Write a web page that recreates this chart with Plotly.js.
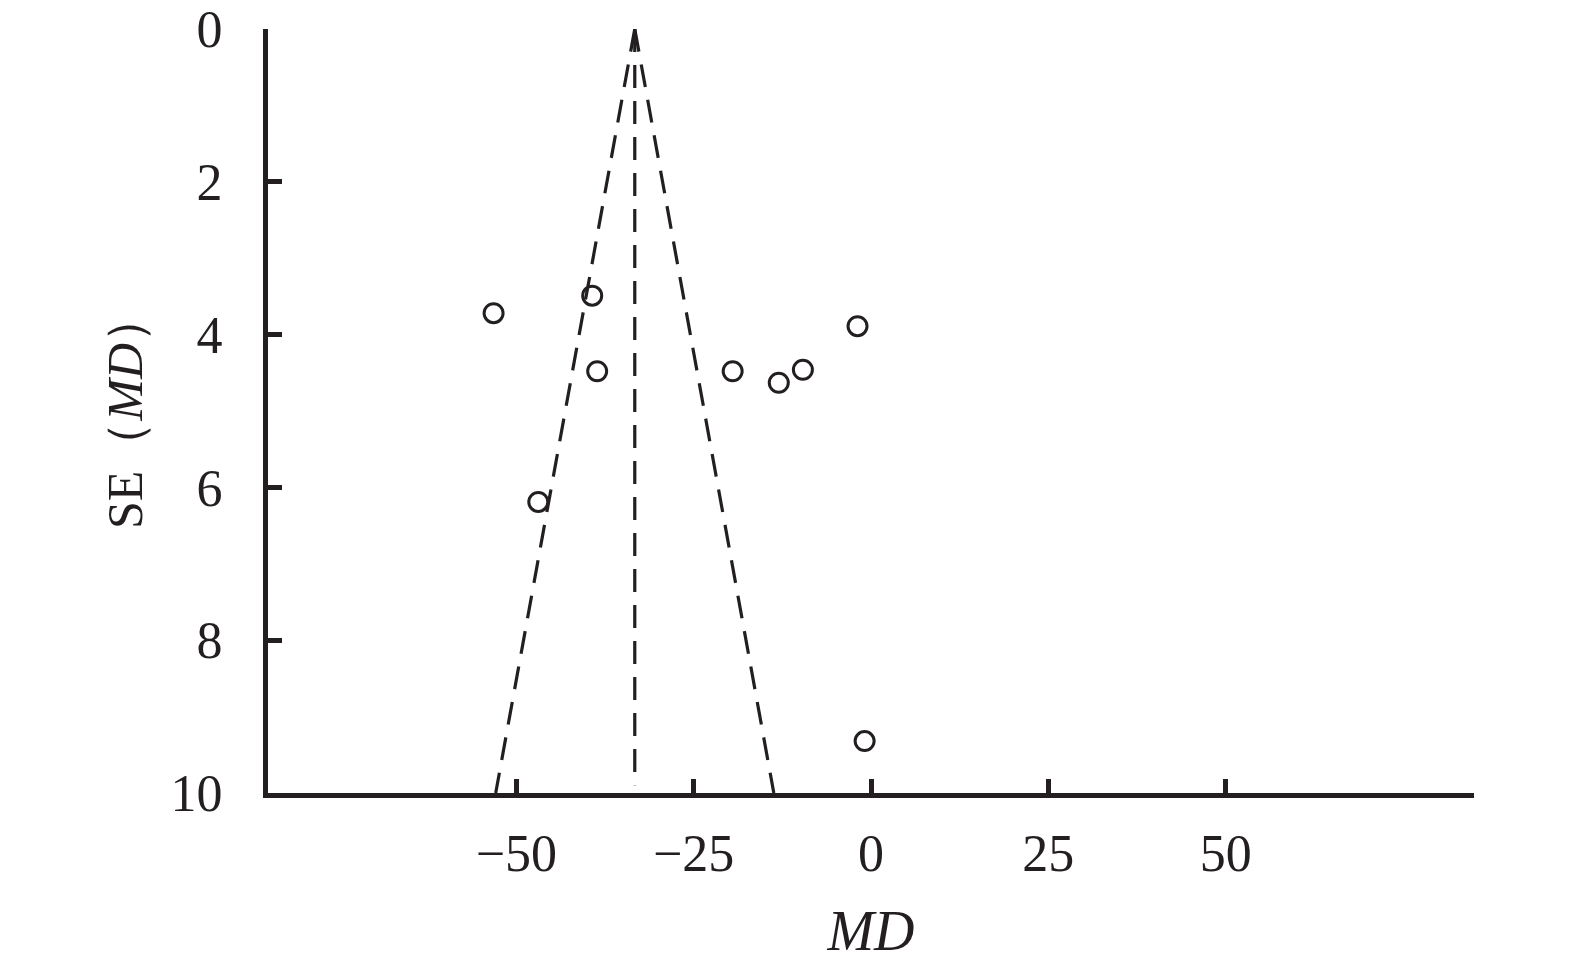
<!DOCTYPE html>
<html>
<head>
<meta charset="utf-8">
<script src="https://cdn.plot.ly/plotly-3.0.1.min.js"></script>
<style>
html,body{margin:0;padding:0;background:#fff;}
#chart{width:1575px;height:970px;}
</style>
</head>
<body>
<div id="chart"></div>
<script>
// Study estimates (mean difference) and their standard errors
const studyMD = [-53.2, -39.3, -38.6, -19.5, -13.0, -9.6, -1.9, -46.9, -0.9];
const studySE = [3.72, 3.49, 4.48, 4.48, 4.63, 4.46, 3.89, 6.19, 9.32];

// Funnel (pooled estimate and 95% pseudo-confidence limits)
const pooledMD = -33.3;
const funnelLowerMD = [-33.3, -52.9];
const funnelUpperMD = [-33.3, -13.7];
const funnelSE = [0, 10];
const centerSE = [0, 9.9];

// Axis ticks
const xTicks = [-50, -25, 0, 25, 50];
const xTickText = ['\u221250', '\u221225', '0', '25', '50'];
const yTicks = [0, 2, 4, 6, 8, 10];

const ink = '#231f20';
const dashLine = {color: ink, width: 3.2, dash: '23px,13px'};

const traces = [
  {x: funnelLowerMD, y: funnelSE, mode: 'lines', line: dashLine, hoverinfo: 'skip', showlegend: false},
  {x: funnelUpperMD, y: funnelSE, mode: 'lines', line: dashLine, hoverinfo: 'skip', showlegend: false},
  {x: [pooledMD, pooledMD], y: centerSE, mode: 'lines', line: dashLine, hoverinfo: 'skip', showlegend: false},
  {x: studyMD, y: studySE, mode: 'markers', showlegend: false,
   marker: {symbol: 'circle-open', size: 19, color: ink, line: {color: ink, width: 3}}}
];

const layout = {
  width: 1575, height: 970,
  margin: {l: 267.5, r: 101, t: 29, b: 176.5},
  paper_bgcolor: '#fff', plot_bgcolor: '#fff',
  font: {family: '"Liberation Serif", "Times New Roman", serif', color: ink, size: 52},
  showlegend: false,
  xaxis: {
    range: [-85, 85], showgrid: false, zeroline: false,
    showline: true, linecolor: ink, linewidth: 5,
    ticks: 'inside', ticklen: 14, tickwidth: 5, tickcolor: ink,
    tickvals: xTicks, ticktext: xTickText,
    tickfont: {size: 52, color: ink}, ticklabelstandoff: 11,
    title: {text: '<i>MD</i>', font: {size: 56, color: ink}, standoff: 31}
  },
  yaxis: {
    range: [10, 0], showgrid: false, zeroline: false,
    showline: true, linecolor: ink, linewidth: 5,
    ticks: 'inside', ticklen: 14, tickwidth: 5, tickcolor: ink,
    tickvals: yTicks,
    tickfont: {size: 52, color: ink}, ticklabelstandoff: 30,
    title: {text: 'SE\uff08<i>MD</i>\uff09', font: {size: 50, color: ink}, standoff: 14}
  }
};

Plotly.newPlot('chart', traces, layout, {displayModeBar: false, staticPlot: true});
</script>
</body>
</html>
